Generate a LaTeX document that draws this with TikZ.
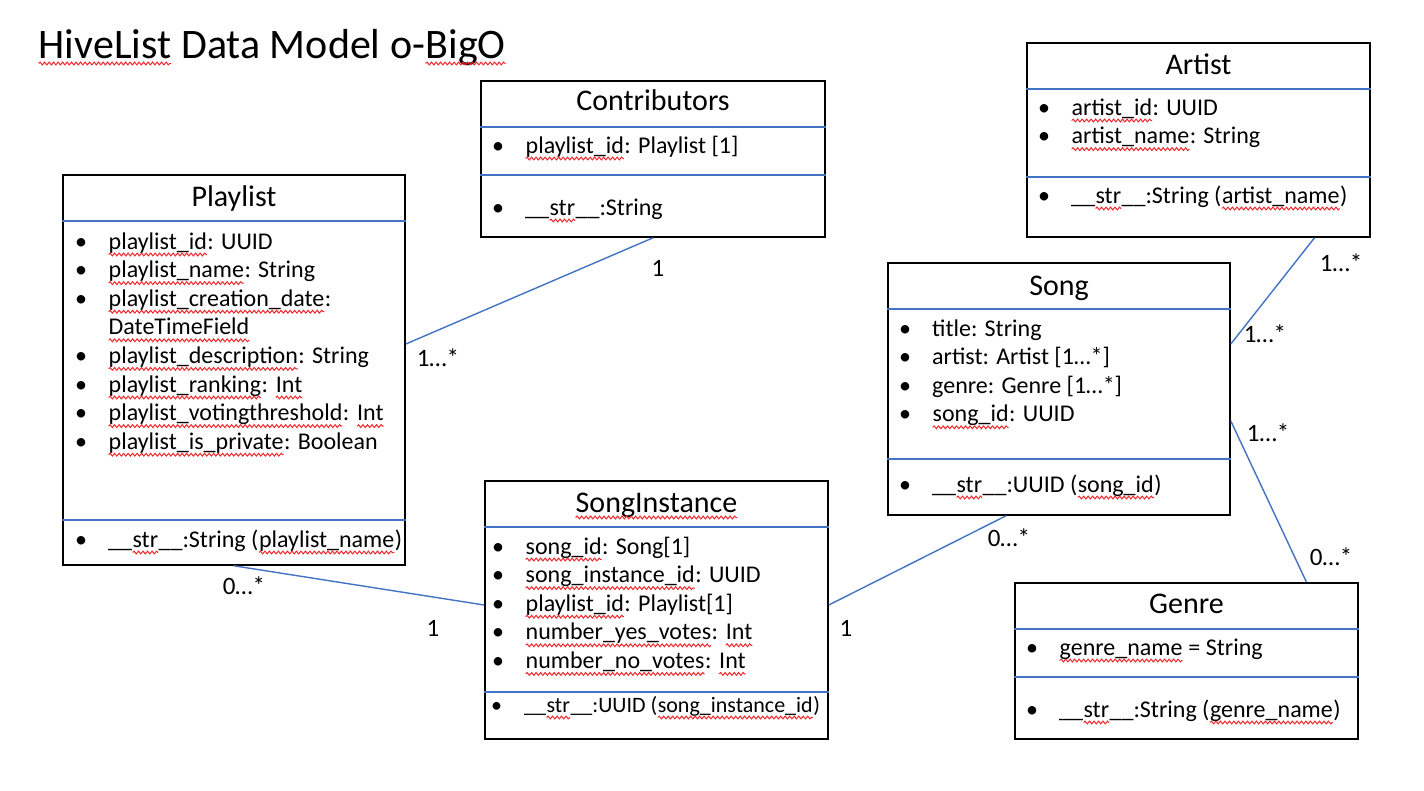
\documentclass[tikz,border=0pt]{standalone}
\usepackage{fontspec}
\setmainfont{Carlito}
\usetikzlibrary{decorations.pathmorphing}
\definecolor{umlblue}{HTML}{4472C4}
\definecolor{spellred}{HTML}{F0282D}
% wavy spell-check underline
\newcommand\sq[1]{\tikz[baseline=(sqw.base)]{\node[inner sep=0pt,outer sep=0pt] (sqw) {#1};
  \draw[spellred,line width=1pt,decorate,decoration={snake,amplitude=1.4pt,segment length=4.5pt}]
    ([yshift=-5.5pt]sqw.base west) -- ([yshift=-5.5pt]sqw.base east);}}
\newcommand\attrlist[1]{\begin{tabular}[t]{@{}p{33pt}@{}l@{}}#1\end{tabular}}
\tikzset{
  cls/.style={draw=black,line width=1.6pt,inner sep=0pt},
  sep/.style={draw=umlblue,line width=1.4pt},
  hdr/.style={font=\fontsize{30}{36}\selectfont,inner sep=0pt,anchor=base},
  attrs/.style={font=\fontsize{24}{28.6}\selectfont,inner sep=0pt,anchor=base west},
  assoc/.style={draw=umlblue,line width=1.4pt},
  mult/.style={font=\fontsize{25}{28}\selectfont,inner sep=0pt}
}
\begin{document}
\begin{tikzpicture}[x=1pt,y=-1pt]
  \useasboundingbox[fill=white] (0,0) rectangle (1424,790);
  % title
  \node[font=\fontsize{42}{48}\selectfont,inner sep=0pt,anchor=base west] (title) at (38,58)
    {\sq{HiveList} Data Model o-\sq{BigO}};
  % class boxes
  \node[cls,minimum width=342pt,minimum height=390pt] (playlist) at (234,370) {};
  \node[cls,minimum width=344pt,minimum height=156pt] (contrib) at (653,159) {};
  \node[cls,minimum width=343pt,minimum height=194pt] (artist) at (1198.5,140) {};
  \node[cls,minimum width=342pt,minimum height=252pt] (song) at (1059,389) {};
  \node[cls,minimum width=343pt,minimum height=258pt] (songinst) at (656.5,610) {};
  \node[cls,minimum width=343pt,minimum height=156pt] (genre) at (1186.5,661) {};
  % separators
  \draw[sep] (playlist.west |- 0,221) -- (playlist.east |- 0,221);
  \draw[sep] (playlist.west |- 0,520) -- (playlist.east |- 0,520);
  \draw[sep] (contrib.west |- 0,127) -- (contrib.east |- 0,127);
  \draw[sep] (contrib.west |- 0,175) -- (contrib.east |- 0,175);
  \draw[sep] (artist.west |- 0,89) -- (artist.east |- 0,89);
  \draw[sep] (artist.west |- 0,177) -- (artist.east |- 0,177);
  \draw[sep] (song.west |- 0,309) -- (song.east |- 0,309);
  \draw[sep] (song.west |- 0,459) -- (song.east |- 0,459);
  \draw[sep] (songinst.west |- 0,527) -- (songinst.east |- 0,527);
  \draw[sep] (songinst.west |- 0,692) -- (songinst.east |- 0,692);
  \draw[sep] (genre.west |- 0,629) -- (genre.east |- 0,629);
  \draw[sep] (genre.west |- 0,677) -- (genre.east |- 0,677);
  % headers
  \node[hdr] (playlisthd) at (234,206) {Playlist};
  \node[hdr] (contribhd) at (653,110) {Contributors};
  \node[hdr] (artisthd) at (1198.5,74) {Artist};
  \node[hdr] (songhd) at (1059,295) {Song};
  \node[hdr] (songinsthd) at (656.5,512) {\sq{SongInstance}};
  \node[hdr] (genrehd) at (1186.5,613) {Genre};
  % attributes
  \node[attrs] (playlistattr) at (75,249) {\attrlist{
    \textbullet & \sq{playlist\_id}: UUID\\
    \textbullet & \sq{playlist\_name}: String\\
    \textbullet & \sq{playlist\_creation\_date}:\\
                & \sq{DateTimeField}\\
    \textbullet & \sq{playlist\_description}: String\\
    \textbullet & \sq{playlist\_ranking}: \sq{Int}\\
    \textbullet & \sq{playlist\_votingthreshold}: \sq{Int}\\
    \textbullet & \sq{playlist\_is\_private}: Boolean}};
  \node[attrs] (playlistop) at (75,547) {\attrlist{
    \textbullet & \_\_\sq{str}\_\_:String (\sq{playlist\_name})}};
  \node[attrs] (contribattr) at (492,153) {\attrlist{
    \textbullet & \sq{playlist\_id}: Playlist [1]}};
  \node[attrs] (contribop) at (492,215) {\attrlist{
    \textbullet & \_\_\sq{str}\_\_:String}};
  \node[attrs] (artistattr) at (1038,115) {\attrlist{
    \textbullet & \sq{artist\_id}: UUID\\
    \textbullet & \sq{artist\_name}: String}};
  \node[attrs] (artistop) at (1038,203) {\attrlist{
    \textbullet & \_\_\sq{str}\_\_:String (\sq{artist\_name})}};
  \node[attrs] (songattr) at (899,336) {\attrlist{
    \textbullet & title: String\\
    \textbullet & artist: Artist [1…*]\\
    \textbullet & genre: Genre [1…*]\\
    \textbullet & \sq{song\_id}: UUID}};
  \node[attrs] (songop) at (899,492) {\attrlist{
    \textbullet & \_\_\sq{str}\_\_:UUID (\sq{song\_id})}};
  \node[attrs] (songinstattr) at (492,554) {\attrlist{
    \textbullet & \sq{song\_id}: Song[1]\\
    \textbullet & \sq{song\_instance\_id}: UUID\\
    \textbullet & \sq{playlist\_id}: Playlist[1]\\
    \textbullet & \sq{number\_yes\_votes}: \sq{Int}\\
    \textbullet & \sq{number\_no\_votes}: \sq{Int}}};
  \node[attrs,font=\fontsize{22}{26}\selectfont] (songinstop) at (491,712) {\attrlist{
    \textbullet & \_\_\sq{str}\_\_:UUID (\sq{song\_instance\_id})}};
  \node[attrs] (genreattr) at (1026,655) {\attrlist{
    \textbullet & \sq{genre\_name} = String}};
  \node[attrs] (genreop) at (1026,717) {\attrlist{
    \textbullet & \_\_\sq{str}\_\_:String (\sq{genre\_name})}};
  % associations
  \draw[assoc] ([yshift=26pt]playlist.east) -- (contrib.south);
  \draw[assoc] (playlist.south) -- ([yshift=5pt]songinst.west);
  \draw[assoc] ([yshift=5pt]songinst.east) -- ([xshift=-53pt]song.south);
  \draw[assoc] ([yshift=45pt]song.east) -- ([xshift=116pt]artist.south);
  \draw[assoc] ([yshift=-32pt]song.east) -- ([xshift=120pt]genre.north);
  % multiplicities
  \node[mult] (m1) at (658,268) {1};
  \node[mult] (m2) at (438,358) {1…*};
  \node[mult] (m3) at (244,586) {0…*};
  \node[mult] (m4) at (433,628) {1};
  \node[mult] (m5) at (846,628) {1};
  \node[mult] (m6) at (1009,538) {0…*};
  \node[mult] (m7) at (1341,263) {1…*};
  \node[mult] (m8) at (1265,334) {1…*};
  \node[mult] (m9) at (1268,433) {1…*};
  \node[mult] (m10) at (1331,557) {0…*};
\end{tikzpicture}
\end{document}
